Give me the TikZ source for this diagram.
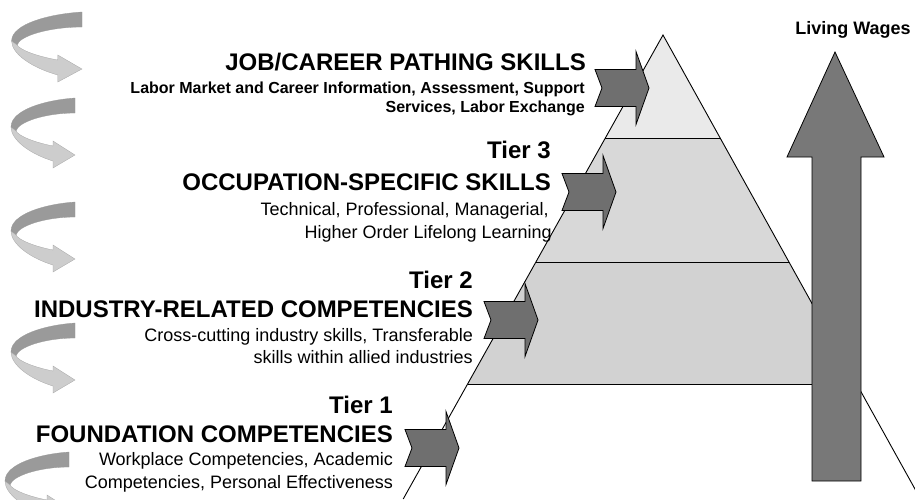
\documentclass[tikz,border=0pt]{standalone}
\usepackage{fontspec}
\setmainfont{Liberation Sans}
\definecolor{bandtop}{HTML}{EAEAEA}
\definecolor{bandmid}{HTML}{D8D8D8}
\definecolor{bandlow}{HTML}{D2D2D2}
\definecolor{arrowdark}{HTML}{6F6F6F}
\definecolor{wagefill}{HTML}{787878}
\definecolor{swirldark}{HTML}{9A9A9A}
\definecolor{swirllight}{HTML}{CDCDCD}
\begin{document}
\begin{tikzpicture}[x=1pt,y=-1pt,
  heading/.style={anchor=base east,inner sep=0pt,font=\fontsize{24}{28}\selectfont\bfseries},
  detail/.style={anchor=base east,inner sep=0pt,font=\fontsize{18}{21}\selectfont},
  smalldetail/.style={anchor=base east,inner sep=0pt,font=\fontsize{16}{19}\selectfont\bfseries},
  outline/.style={draw=black,line width=0.8pt,line join=miter},
  tierarrow/.pic={
    \draw[outline,fill=arrowdark] (0,-18.5) -- (41,-18.5) -- (41,-36.5) -- (54,0)
      -- (41,36.5) -- (41,18.5) -- (0,18.5) -- (7,0) -- cycle;},
  swirl/.pic={
    \fill[swirldark,draw=gray!80,line width=0.3pt]
      (0,0) .. controls (-30,2) and (-64,12) .. (-64,29) -- (-59,33)
      .. controls (-57,24) and (-30,15) .. (0,15) -- cycle;
    \fill[swirllight,draw=gray!70,line width=0.3pt]
      (-64,29) .. controls (-64,42) and (-45,56) .. (-22,63) -- (-22,70) -- (0,57)
      -- (-22,43) -- (-22,48) .. controls (-42,44) and (-56,38) .. (-59,33) -- cycle;}
]
\useasboundingbox (0,0) rectangle (915,499);
\clip (0,0) rectangle (915,499);

% pyramid bands
\fill[bandtop] (663,35) -- (720.2,138) -- (605.3,138) -- cycle;
\fill[bandmid] (605.3,138) -- (720.2,138) -- (789,262) -- (535.9,262) -- cycle;
\fill[bandlow] (535.9,262) -- (789,262) -- (856.7,384) -- (467.6,384) -- cycle;
\draw[line width=0.9pt] (403.2,499) -- (663,35) -- (920.5,499);
\draw[line width=0.9pt] (605.3,138) -- (720.2,138);
\draw[line width=0.9pt] (535.9,262) -- (789,262);
\draw[line width=0.9pt] (467.6,384) -- (856.7,384);

% tier arrows
\pic at (595,88) {tierarrow};
\pic at (562,192) {tierarrow};
\pic at (484,320) {tierarrow};
\pic at (405,448) {tierarrow};

% living wages arrow
\draw[outline,fill=wagefill] (812,481) -- (812,157) -- (787,157) -- (835,52)
  -- (884,157) -- (861,157) -- (861,481) -- cycle;
\node[anchor=base,inner sep=0pt,font=\fontsize{18}{21}\selectfont\bfseries] (wages) at (853,34) {Living Wages};

% swirls
\pic[xscale=1.1] at (82,12) {swirl};
\pic at (75,98) {swirl};
\pic at (75,202) {swirl};
\pic at (75,323) {swirl};
\pic at (69,452) {swirl};

% top level
\node[heading] (jobt) at (586,70) {JOB/CAREER PATHING SKILLS};
\node[smalldetail] (jobd1) at (585,93) {Labor Market and Career Information, Assessment, Support};
\node[smalldetail] (jobd2) at (585,112) {Services, Labor Exchange};

% tier 3
\node[heading] (t3) at (551,158) {Tier 3};
\node[heading] (t3t) at (551,190) {OCCUPATION-SPECIFIC SKILLS};
\node[detail] (t3d1) at (549,215) {Technical, Professional, Managerial,};
\node[detail] (t3d2) at (552,238) {Higher Order Lifelong Learning};

% tier 2
\node[heading] (t2) at (473,288) {Tier 2};
\node[heading] (t2t) at (473,317) {INDUSTRY-RELATED COMPETENCIES};
\node[detail] (t2d1) at (473,341) {Cross-cutting industry skills, Transferable};
\node[detail] (t2d2) at (473,363) {skills within allied industries};

% tier 1
\node[heading] (t1) at (393,413) {Tier 1};
\node[heading] (t1t) at (393,442) {FOUNDATION COMPETENCIES};
\node[detail] (t1d1) at (393,465) {Workplace Competencies, Academic};
\node[detail] (t1d2) at (393,488) {Competencies, Personal Effectiveness};
\end{tikzpicture}
\end{document}
